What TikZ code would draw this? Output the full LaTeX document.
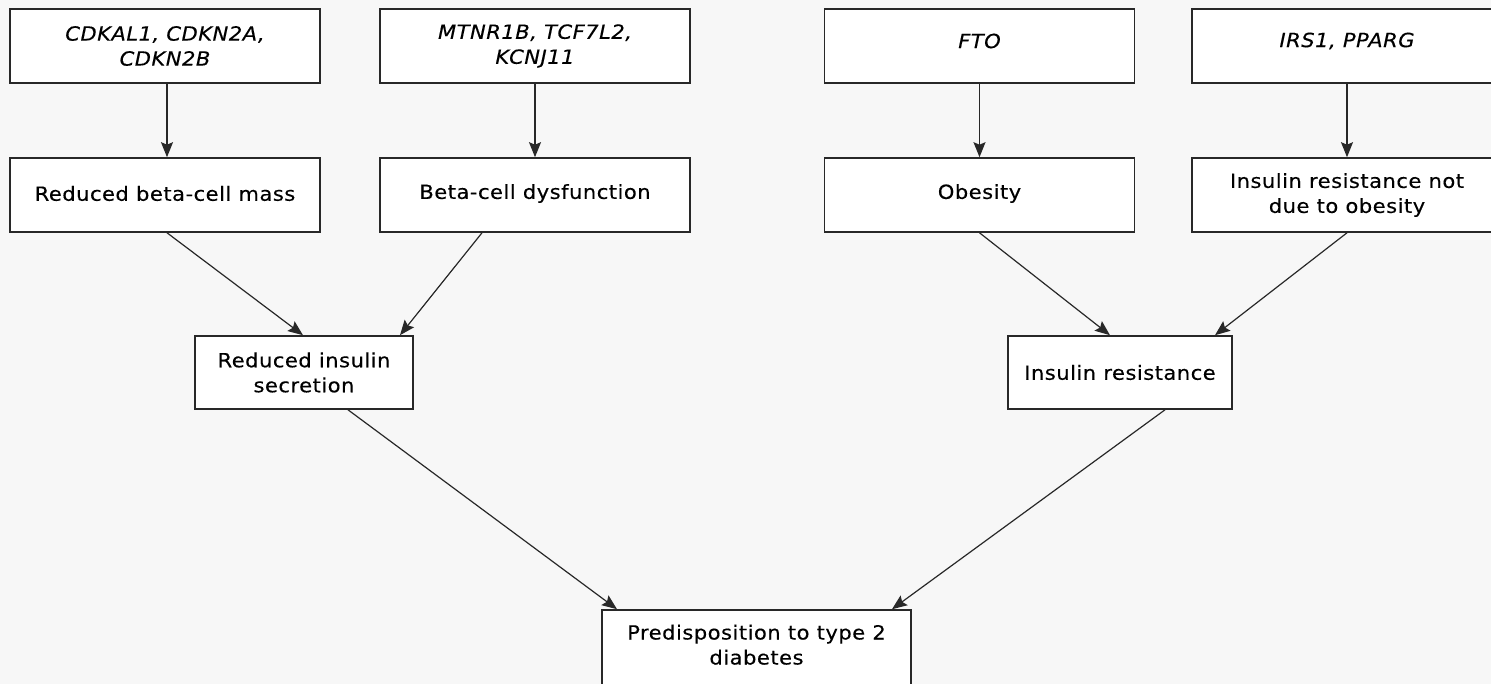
\documentclass[tikz,border=0pt]{standalone}
\usepackage{fontspec}
\setmainfont{DejaVu Sans}[LetterSpace=2.5,FakeStretch=1.08,FakeBold=0.3]
\usetikzlibrary{arrows.meta}
\definecolor{bg}{RGB}{247,247,247}
\definecolor{edge}{RGB}{40,40,40}
\newcommand{\up}[1]{\raisebox{5pt}[\height][\depth]{#1}}
\begin{document}
\begin{tikzpicture}[x=1pt,y=-1pt,
  box/.style={draw=edge,line width=1.6pt,fill=white,align=center,inner sep=0pt,
    font=\fontsize{19.5}{25}\selectfont},
  top/.style={box,minimum width=310pt,minimum height=74pt},
  mid/.style={box,minimum width=220pt,minimum height=73pt},
  arr/.style={draw=edge,line width=1.2pt,-{Stealth[length=15pt,width=12pt,inset=2.5pt]}}]
\useasboundingbox (0,0) rectangle (1491,684);
\fill[bg] (0,0) rectangle (1491,684);
\begin{scope}
\clip (0,0) rectangle (1491,684);
\node[top] (g1) at (165,46) {\itshape CDKAL1, CDKN2A,\\\itshape CDKN2B};
\node[top] (g2) at (535,46) {\itshape MTNR1B, TCF7L2,\\\itshape KCNJ11};
\node[top] (g3) at (979.5,46) {\up{\itshape FTO}};
\node[top] (g4) at (1347,46) {\up{\itshape IRS1, PPARG}};
\node[top] (p1) at (165,195) {\raisebox{1.5pt}[\height][\depth]{Reduced beta-cell mass}};
\node[top] (p2) at (535,195) {\raisebox{1.5pt}[\height][\depth]{Beta-cell dysfunction}};
\node[top] (p3) at (979.5,195) {\raisebox{1.5pt}[\height][\depth]{Obesity}};
\node[top] (p4) at (1347,195) {Insulin resistance not\\due to obesity};
\node[mid,minimum width=218pt] (s) at (304,372.5) {Reduced insulin\\secretion};
\node[mid,minimum width=224pt] (r) at (1120,372.5) {Insulin resistance};
\node[top,minimum width=309pt,minimum height=84pt] (d) at (756.5,652) {\raisebox{5pt}[\height][\depth]{\begin{tabular}{@{}c@{}}Predisposition to type 2\\diabetes\end{tabular}}};
\draw[arr] (g1.south -| 167,0) -- (p1.north -| 167,0);
\draw[arr] (g2.south) -- (p2.north);
\draw[arr] (g3.south) -- (p3.north);
\draw[arr] (g4.south) -- (p4.north);
\draw[arr] (p1.south -| 167,0) -- (s.north -| 303,0);
\draw[arr] (p2.south -| 482,0) -- (s.north -| 400,0);
\draw[arr] (p3.south) -- (r.north -| 1110,0);
\draw[arr] (p4.south) -- (r.north -| 1215,0);
\draw[arr] (s.south -| 348,0) -- (d.north -| 617,0);
\draw[arr] (r.south -| 1165,0) -- (d.north -| 892,0);
\end{scope}
\end{tikzpicture}
\end{document}
